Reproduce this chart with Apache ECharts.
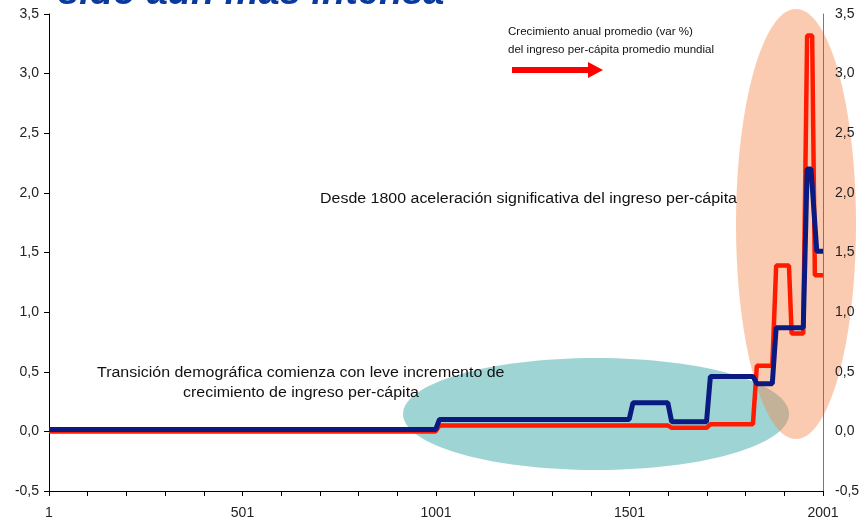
<!DOCTYPE html>
<html>
<head>
<meta charset="utf-8">
<script src="https://cdn.jsdelivr.net/npm/echarts@6/dist/echarts.min.js"></script>
<style>
  html, body { margin: 0; padding: 0; background: #fff; }
  #chart { width: 867px; height: 524px; }
</style>
</head>
<body>
<div id="chart"></div>
<script>
// years on the horizontal axis (Excel-style categories 1..2001)
const yearLabels = [1, 501, 1001, 1501, 2001];

// growth of per-capita income (red)
const incomeYears  = [1, 1000, 1010, 1600, 1610, 1700, 1710, 1820, 1830, 1870, 1880, 1913, 1920, 1950, 1960, 1973, 1980, 2001];
const incomeValues = [0, 0, 0.05, 0.05, 0.03, 0.03, 0.06, 0.06, 0.55, 0.55, 1.39, 1.39, 0.82, 0.82, 3.32, 3.32, 1.31, 1.31];

// second series (navy)
const blueYears  = [1, 1000, 1010, 1500, 1510, 1600, 1610, 1700, 1710, 1820, 1830, 1870, 1880, 1950, 1960, 1970, 1985, 2001];
const blueValues = [0.015, 0.015, 0.1, 0.1, 0.24, 0.24, 0.08, 0.08, 0.46, 0.46, 0.4, 0.4, 0.87, 0.87, 2.2, 2.2, 1.51, 1.51];

const FONT = 'Liberation Sans, Arial, sans-serif';

function pairs(years, values) {
  // axis runs from index 0 (= year 1) to 2000 (= year 2001)
  return years.map((y, i) => [y - 1, values[i]]);
}

function fmt(v) {
  return v.toFixed(1).replace('.', ',');
}

const chart = echarts.init(document.getElementById('chart'));

const option = {
  animation: false,
  backgroundColor: '#fff',
  grid: { left: 49, right: 44, top: 14, bottom: 33 },
  xAxis: {
    type: 'value',
    min: 0,
    max: 2000,
    interval: 100,
    axisLine: { show: true, onZero: false, lineStyle: { color: '#000', width: 1 } },
    axisTick: { show: true, length: 5, lineStyle: { color: '#000' } },
    axisLabel: {
      color: '#222', fontSize: 14, fontFamily: FONT, margin: 15,
      formatter: function (v) {
        return yearLabels.indexOf(v + 1) >= 0 ? String(v + 1) : '';
      }
    },
    splitLine: { show: false }
  },
  yAxis: [
    {
      type: 'value',
      min: -0.5, max: 3.5, interval: 0.5,
      axisLine: { show: true, lineStyle: { color: '#000', width: 1 } },
      axisTick: { show: true, length: 5, lineStyle: { color: '#000' } },
      axisLabel: { color: '#222', fontSize: 14, fontFamily: FONT, margin: 10, formatter: fmt },
      splitLine: { show: false }
    },
    {
      type: 'value', position: 'right',
      min: -0.5, max: 3.5, interval: 0.5,
      axisLine: { show: true, lineStyle: { color: '#777', width: 1 } },
      axisTick: { show: false },
      axisLabel: { color: '#222', fontSize: 14, fontFamily: FONT, margin: 12, formatter: fmt },
      splitLine: { show: false }
    }
  ],
  graphic: [
    // highlight ellipses behind the lines
    { type: 'ellipse', z: -1, shape: { cx: 596, cy: 414, rx: 193, ry: 56 },
      style: { fill: 'rgba(64,170,170,0.5)' } },
    { type: 'ellipse', z: -1, shape: { cx: 796, cy: 224, rx: 60, ry: 215 },
      style: { fill: 'rgba(245,130,70,0.42)' } },
    // title cut off at the top
    { type: 'text', x: 58, y: -25, z: 10,
      style: { text: 'sido aún más intensa', fill: '#0a3a9e',
               font: 'italic bold 38px ' + FONT } },
    // legend-like note with arrow
    { type: 'text', x: 508, y: 26, z: 10, scaleX: 1.05,
      style: { text: 'Crecimiento anual promedio (var %)', fill: '#111', font: '11px ' + FONT } },
    { type: 'text', x: 508, y: 44, z: 10, scaleX: 1.05,
      style: { text: 'del ingreso per-cápita promedio mundial', fill: '#111', font: '11px ' + FONT } },
    { type: 'polygon', z: 10,
      shape: { points: [[512, 67], [588, 67], [588, 62], [603, 70], [588, 78], [588, 73], [512, 73]] },
      style: { fill: '#ff0000' } },
    // annotations
    { type: 'text', x: 320, y: 192, z: 10, scaleX: 1.14,
      style: { text: 'Desde 1800 aceleración significativa del ingreso per-cápita', fill: '#111', font: '14px ' + FONT } },
    { type: 'text', x: 97, y: 366, z: 10, scaleX: 1.14,
      style: { text: 'Transición demográfica comienza con leve incremento de', fill: '#111', font: '14px ' + FONT } },
    { type: 'text', x: 183, y: 386, z: 10, scaleX: 1.14,
      style: { text: 'crecimiento de ingreso per-cápita', fill: '#111', font: '14px ' + FONT } }
  ],
  series: [
    {
      name: 'Ingreso per-cápita',
      type: 'line',
      data: pairs(incomeYears, incomeValues),
      showSymbol: false,
      lineStyle: { color: '#ff1a00', width: 4.5 },
      z: 3
    },
    {
      name: 'Población',
      type: 'line',
      data: pairs(blueYears, blueValues),
      showSymbol: false,
      lineStyle: { color: '#0a1a80', width: 5 },
      z: 4
    }
  ]
};

chart.setOption(option);
</script>
</body>
</html>
